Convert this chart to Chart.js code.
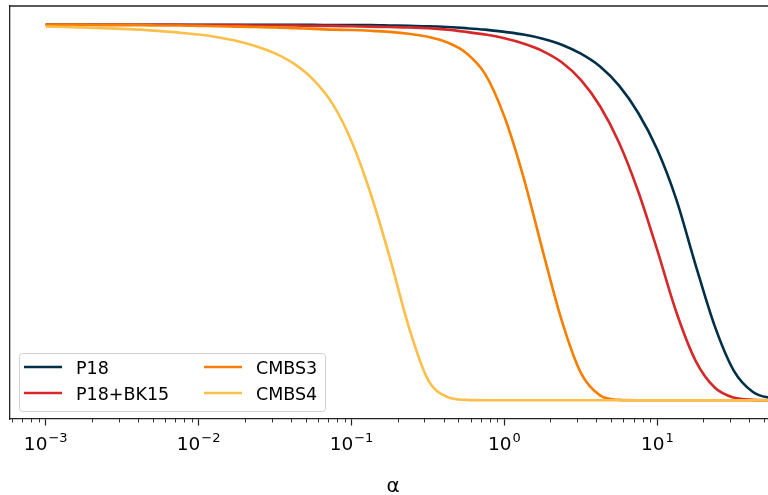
<!DOCTYPE html>
<html>
<head>
<meta charset="utf-8">
<script src="https://cdn.jsdelivr.net/npm/chart.js@4/dist/chart.umd.min.js"></script>
<style>
  html, body { margin: 0; padding: 0; background: #fff; overflow: hidden; }
  #wrap { width: 790px; height: 495px; }
</style>
</head>
<body>
<div id="wrap"><canvas id="chart" width="790" height="495"></canvas></div>
<script>
// alpha grid (8 points per decade)
const alpha = [0.001, 0.00133, 0.00178, 0.00237, 0.00316, 0.00422, 0.00562, 0.0075,
               0.01, 0.0133, 0.0178, 0.0237, 0.0316, 0.0422, 0.0562, 0.075,
               0.1, 0.133, 0.178, 0.237, 0.316, 0.422, 0.562, 0.75,
               1, 1.33, 1.78, 2.37, 3.16, 4.22, 5.62, 7.5,
               10, 13.3, 17.8, 23.7, 31.6, 42.2, 56.2, 60];

const p18 = [1, 1, 1, 1, 1, 1, 1, 1,
             1, 1, 1, 1, 1, 1, 1, 0.999,
             0.999, 0.999, 0.998, 0.997, 0.996, 0.994, 0.991, 0.987,
             0.981, 0.974, 0.963, 0.947, 0.923, 0.889, 0.838, 0.765,
             0.667, 0.535, 0.36, 0.198, 0.079, 0.022, 0.005, 0.003];

const p18bk15 = [1, 1, 1, 1, 1, 1, 1, 1,
                 0.999, 0.999, 0.999, 0.998, 0.998, 0.998, 0.997, 0.997,
                 0.996, 0.995, 0.994, 0.993, 0.991, 0.987, 0.981, 0.974,
                 0.964, 0.95, 0.93, 0.9, 0.853, 0.783, 0.686, 0.556,
                 0.399, 0.235, 0.105, 0.034, 0.007, 0.001, 0, 0];

const cmbs3 = [1, 1, 1, 0.999, 0.999, 0.999, 0.998, 0.998,
               0.997, 0.996, 0.995, 0.994, 0.993, 0.991, 0.989, 0.987,
               0.986, 0.984, 0.981, 0.976, 0.968, 0.953, 0.925, 0.868,
               0.755, 0.595, 0.398, 0.212, 0.073, 0.013, 0.001, 0,
               0, 0, 0, 0, 0, 0, 0, 0];

const cmbs4 = [0.995, 0.994, 0.993, 0.991, 0.989, 0.987, 0.983, 0.979,
               0.974, 0.967, 0.957, 0.943, 0.924, 0.896, 0.854, 0.79,
               0.69, 0.552, 0.38, 0.195, 0.055, 0.009, 0.001, 0,
               0, 0, 0, 0, 0, 0, 0, 0,
               0, 0, 0, 0, 0, 0, 0, 0];

const seriesNames = ['P18', 'P18+BK15', 'CMBS3', 'CMBS4'];
const seriesColors = ['#003049', '#d62828', '#f77f00', '#fcbf49'];
const seriesValues = [p18, p18bk15, cmbs3, cmbs4];

const tickValues = [0.001, 0.01, 0.1, 1, 10];
const tickExponents = ['\u22123', '\u22122', '\u22121', '0', '1'];

const FONT = '"DejaVu Sans", sans-serif';
const AXIS_COLOR = '#222';

// top spine, minor ticks, "10^n" labels and the in-plot legend
const extras = {
    id: 'extras',
    afterDraw(chart) {
        const ctx = chart.ctx;
        const area = chart.chartArea;
        const xs = chart.scales.x;
        ctx.save();

        ctx.strokeStyle = AXIS_COLOR;
        ctx.lineWidth = 1.3;
        ctx.beginPath();
        ctx.moveTo(area.left - 0.65, area.top);
        ctx.lineTo(area.right, area.top);
        ctx.stroke();

        ctx.lineWidth = 0.9;
        for (let e = -4; e <= 1; e++) {
            for (let m = 2; m <= 9; m++) {
                const v = m * Math.pow(10, e);
                if (v < xs.min || v > xs.max) continue;
                const px = Math.round(xs.getPixelForValue(v)) + 0.5;
                ctx.beginPath();
                ctx.moveTo(px, area.bottom);
                ctx.lineTo(px, area.bottom + 3.5);
                ctx.stroke();
            }
        }

        ctx.fillStyle = '#000';
        ctx.textBaseline = 'alphabetic';
        ctx.textAlign = 'left';
        tickValues.forEach((v, i) => {
            const px = xs.getPixelForValue(v);
            ctx.font = '18.5px ' + FONT;
            const w1 = ctx.measureText('10').width;
            ctx.font = '13px ' + FONT;
            const w2 = ctx.measureText(tickExponents[i]).width;
            const start = px - (w1 + w2 + 1) / 2;
            ctx.font = '18.5px ' + FONT;
            ctx.fillText('10', start, area.bottom + 31);
            ctx.font = '13px ' + FONT;
            ctx.fillText(tickExponents[i], start + w1 + 1, area.bottom + 23);
        });

        // legend box
        const bx = area.left + 9, by = area.bottom - 66, bw = 306, bh = 58;
        ctx.fillStyle = 'rgba(255,255,255,0.8)';
        ctx.strokeStyle = 'rgba(204,204,204,0.9)';
        ctx.lineWidth = 1;
        ctx.beginPath();
        ctx.roundRect(bx + 0.5, by + 0.5, bw, bh, 3);
        ctx.fill();
        ctx.stroke();

        const cols = [area.left + 14, area.left + 194];
        const rows = [by + 14, by + 40];
        ctx.font = '17.5px ' + FONT;
        chart.data.datasets.forEach((ds, i) => {
            const cx = cols[Math.floor(i / 2)];
            const cy = rows[i % 2];
            ctx.strokeStyle = ds.borderColor;
            ctx.lineWidth = 2.5;
            ctx.beginPath();
            ctx.moveTo(cx, cy);
            ctx.lineTo(cx + 38, cy);
            ctx.stroke();
            ctx.fillStyle = '#000';
            ctx.fillText(ds.label, cx + 52, cy + 7.3);
        });
        ctx.restore();
    }
};

new Chart(document.getElementById('chart'), {
    type: 'line',
    data: {
        datasets: seriesNames.map((name, i) => ({
            label: name,
            data: alpha.map((a, j) => ({x: a, y: seriesValues[i][j]})),
            borderColor: seriesColors[i],
            backgroundColor: seriesColors[i],
            borderWidth: 2.6,
            pointRadius: 0,
            fill: false,
            cubicInterpolationMode: 'monotone',
            order: seriesNames.length - i,
        })),
    },
    options: {
        responsive: false,
        animation: false,
        devicePixelRatio: 1,
        events: [],
        layout: {padding: {left: 10, top: 6, right: 14, bottom: 0}},
        plugins: {legend: {display: false}, tooltip: {enabled: false}},
        scales: {
            x: {
                type: 'logarithmic',
                min: 5.84e-4,
                max: 59.7,
                afterBuildTicks: s => { s.ticks = tickValues.map(v => ({value: v})); },
                afterFit: s => { s.height = 76; },
                ticks: {display: false},
                grid: {display: true, drawOnChartArea: false, drawTicks: true,
                       tickLength: 6.5, tickWidth: 1.2, tickColor: AXIS_COLOR},
                border: {display: true, color: AXIS_COLOR, width: 1.3},
                title: {display: true, text: 'α', color: '#000',
                        font: {family: FONT, size: 20}, padding: {top: 0, bottom: -4}},
            },
            y: {
                min: -0.05,
                max: 1.05,
                afterFit: s => { s.width = 0; },
                ticks: {display: false},
                grid: {display: false},
                border: {display: true, color: AXIS_COLOR, width: 1.3},
            },
        },
    },
    plugins: [extras],
});
</script>
</body>
</html>
